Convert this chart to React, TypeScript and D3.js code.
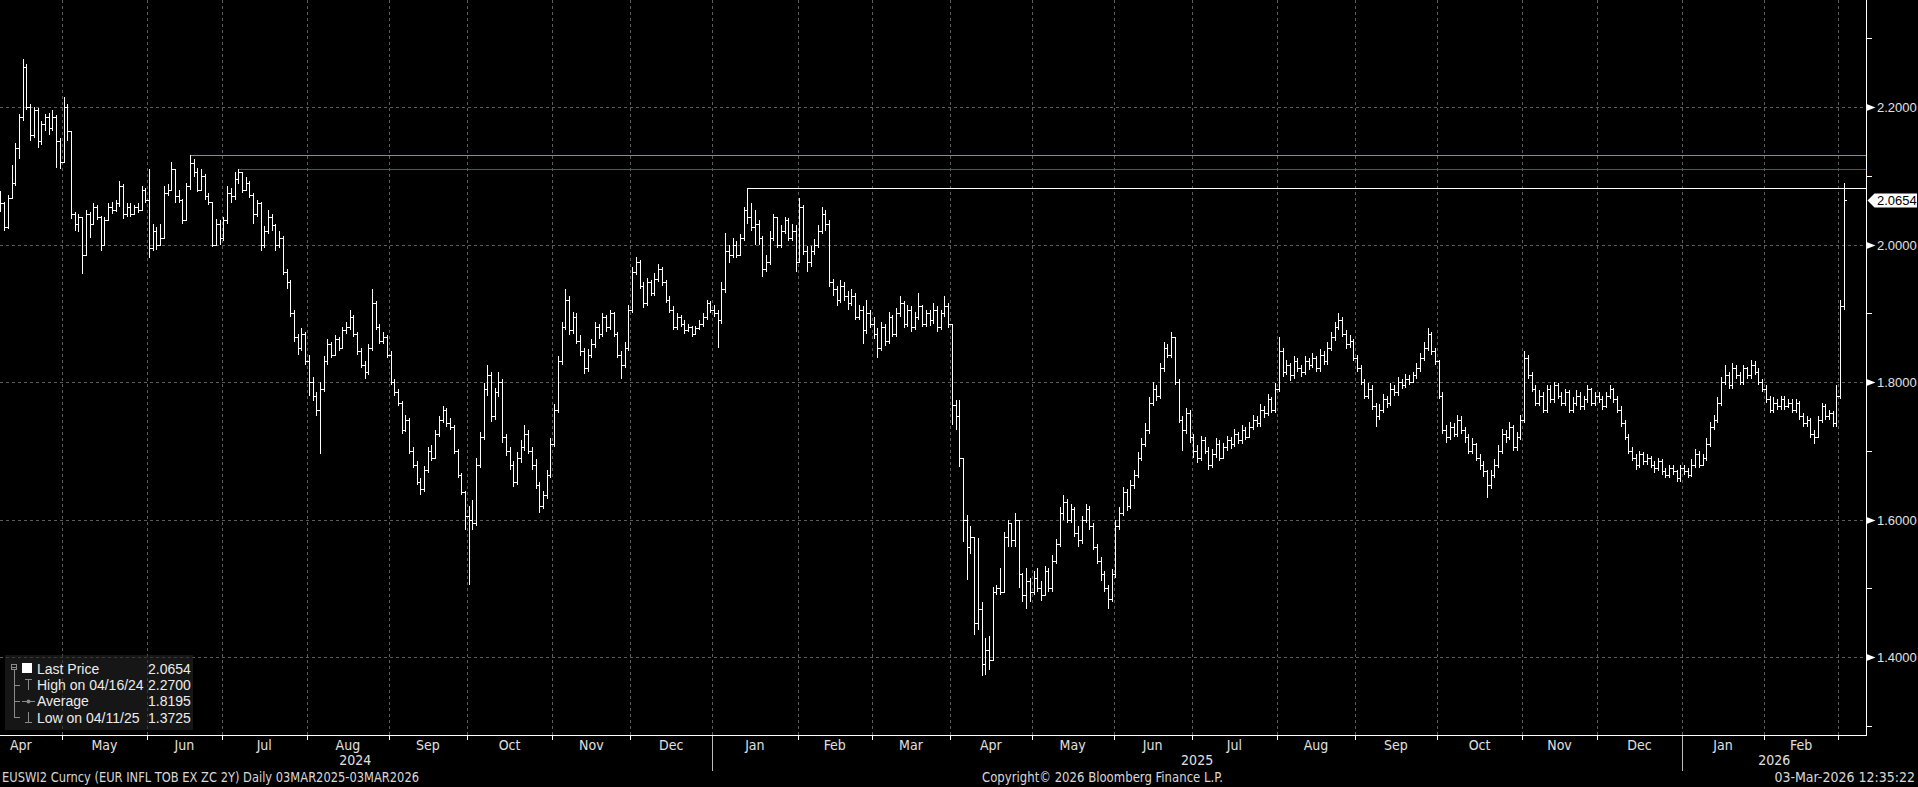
import React from "react";
import * as d3 from "d3";

// Daily bars, every weekday from 08-Apr-2024 to 03-Mar-2026 (497 bars)
const closes = [
  // Apr 2024
  2.060, 2.025, 2.068, 2.090, 2.140, 2.185, 2.258, 2.200, 2.160, 2.195, 2.150, 2.175, 2.185, 2.170, 2.185, 2.150, 2.120,
  // May 2024
  2.200, 2.165, 2.045, 2.030, 2.040, 1.985, 2.045, 2.030, 2.055, 2.040, 2.000, 2.035, 2.055, 2.050, 2.060, 2.085, 2.045, 2.055, 2.045, 2.055, 2.050, 2.080, 2.065,
  // Jun 2024
  1.995, 2.020, 2.000, 2.010, 2.075, 2.080, 2.110, 2.070, 2.065, 2.035, 2.085, 2.118, 2.105, 2.080, 2.100, 2.070, 2.062, 2.000, 2.030, 2.010,
  // Jul 2024
  2.035, 2.075, 2.070, 2.095, 2.105, 2.080, 2.090, 2.072, 2.045, 2.060, 2.000, 2.020, 2.040, 2.028, 2.000, 2.010, 1.960, 1.945, 1.900, 1.865, 1.850, 1.870, 1.830,
  // Aug 2024
  1.800, 1.780, 1.760, 1.790, 1.830, 1.855, 1.840, 1.862, 1.850, 1.875, 1.880, 1.895, 1.870, 1.845, 1.825, 1.815, 1.850, 1.915, 1.880, 1.860, 1.865, 1.840,
  // Sep 2024
  1.800, 1.785, 1.770, 1.730, 1.745, 1.700, 1.680, 1.655, 1.645, 1.672, 1.700, 1.690, 1.725, 1.745, 1.760, 1.740, 1.735, 1.700, 1.665, 1.640, 1.605,
  // Oct 2024
  1.600, 1.595, 1.680, 1.720, 1.790, 1.810, 1.750, 1.785, 1.800, 1.720, 1.700, 1.680, 1.655, 1.690, 1.705, 1.725, 1.700, 1.680, 1.650, 1.620, 1.635, 1.665, 1.710,
  // Nov 2024
  1.760, 1.830, 1.880, 1.920, 1.875, 1.895, 1.860, 1.845, 1.820, 1.840, 1.855, 1.880, 1.870, 1.895, 1.880, 1.900, 1.870, 1.840, 1.825, 1.850, 1.905,
  // Dec 2024
  1.960, 1.975, 1.940, 1.915, 1.945, 1.930, 1.950, 1.965, 1.945, 1.920, 1.905, 1.880, 1.895, 1.885, 1.875, 1.880, 1.870, 1.878, 1.885, 1.895, 1.915, 1.905,
  // Jan 2025
  1.900, 1.890, 1.935, 1.990, 1.985, 2.000, 1.985, 2.010, 2.050, 2.040, 2.025, 2.030, 2.010, 1.965, 1.975, 2.010, 2.040, 2.000, 2.020, 2.035, 2.010, 2.020, 1.975,
  // Feb 2025
  2.055, 1.990, 1.975, 1.990, 2.000, 2.020, 2.045, 2.030, 1.945, 1.935, 1.920, 1.940, 1.925, 1.915, 1.925, 1.895, 1.905, 1.875, 1.900, 1.885,
  // Mar 2025
  1.870, 1.850, 1.880, 1.860, 1.895, 1.870, 1.900, 1.915, 1.885, 1.905, 1.880, 1.895, 1.910, 1.885, 1.900, 1.890, 1.905, 1.880, 1.900, 1.910, 1.885,
  // Apr 2025
  1.766, 1.750, 1.690, 1.600, 1.560, 1.575, 1.450, 1.470, 1.390, 1.410, 1.395, 1.495, 1.500, 1.495, 1.575, 1.595, 1.570, 1.600, 1.520, 1.490, 1.510, 1.495,
  // May 2025
  1.515, 1.500, 1.490, 1.525, 1.500, 1.540, 1.565, 1.610, 1.625, 1.600, 1.615, 1.580, 1.570, 1.600, 1.615, 1.590, 1.560, 1.540, 1.520, 1.500, 1.485, 1.520,
  // Jun 2025
  1.590, 1.610, 1.640, 1.620, 1.650, 1.665, 1.690, 1.710, 1.730, 1.770, 1.790, 1.780, 1.820, 1.850, 1.840, 1.865, 1.800, 1.745, 1.730, 1.755, 1.720,
  // Jul 2025
  1.700, 1.690, 1.715, 1.700, 1.680, 1.695, 1.710, 1.690, 1.705, 1.715, 1.710, 1.725, 1.715, 1.730, 1.720, 1.735, 1.745, 1.740, 1.760, 1.755, 1.775, 1.760, 1.790,
  // Aug 2025
  1.845, 1.815, 1.825, 1.810, 1.830, 1.820, 1.815, 1.830, 1.825, 1.835, 1.820, 1.840, 1.830, 1.850, 1.865, 1.880, 1.890, 1.870, 1.855, 1.860, 1.835,
  // Sep 2025
  1.820, 1.800, 1.780, 1.790, 1.765, 1.750, 1.760, 1.775, 1.770, 1.790, 1.785, 1.800, 1.795, 1.805, 1.800, 1.810, 1.820, 1.835, 1.850, 1.870, 1.845, 1.830,
  // Oct 2025
  1.780, 1.730, 1.720, 1.735, 1.725, 1.745, 1.730, 1.720, 1.700, 1.710, 1.690, 1.680, 1.670, 1.650, 1.665, 1.680, 1.700, 1.725, 1.720, 1.735, 1.705, 1.720, 1.745,
  // Nov 2025
  1.835, 1.810, 1.790, 1.770, 1.780, 1.760, 1.790, 1.775, 1.795, 1.780, 1.770, 1.785, 1.760, 1.770, 1.780, 1.765, 1.775, 1.790, 1.770, 1.780,
  // Dec 2025
  1.775, 1.765, 1.780, 1.790, 1.775, 1.760, 1.740, 1.720, 1.700, 1.690, 1.680, 1.695, 1.685, 1.690, 1.680, 1.675, 1.685, 1.670, 1.665, 1.675, 1.670, 1.660, 1.675,
  // Jan 2026
  1.670, 1.665, 1.680, 1.695, 1.680, 1.690, 1.710, 1.735, 1.745, 1.770, 1.800, 1.810, 1.795, 1.820, 1.810, 1.800, 1.820, 1.810, 1.825, 1.815, 1.800, 1.790,
  // Feb 2026
  1.775, 1.760, 1.770, 1.765, 1.775, 1.765, 1.770, 1.760, 1.770, 1.750, 1.740, 1.745, 1.725, 1.720, 1.745, 1.765, 1.750, 1.755, 1.740, 1.780,
  // Mar 2026
  1.910, 2.0654,
];

const highs = [
  // Apr 2024
  2.078, 2.062, 2.072, 2.115, 2.148, 2.190, 2.270, 2.262, 2.205, 2.200, 2.198, 2.180, 2.190, 2.192, 2.195, 2.188, 2.155,
  // May 2024
  2.215, 2.205, 2.165, 2.048, 2.045, 2.040, 2.050, 2.048, 2.060, 2.058, 2.042, 2.040, 2.060, 2.062, 2.065, 2.092, 2.088, 2.060, 2.060, 2.058, 2.060, 2.085, 2.082,
  // Jun 2024
  2.110, 2.030, 2.025, 2.030, 2.085, 2.088, 2.120, 2.110, 2.080, 2.066, 2.090, 2.130, 2.125, 2.112, 2.110, 2.102, 2.075, 2.062, 2.037, 2.035,
  // Jul 2024
  2.040, 2.085, 2.082, 2.105, 2.110, 2.100, 2.098, 2.092, 2.075, 2.065, 2.062, 2.027, 2.050, 2.045, 2.030, 2.020, 2.012, 1.965, 1.948, 1.905, 1.870, 1.878, 1.872,
  // Aug 2024
  1.840, 1.808, 1.785, 1.800, 1.838, 1.862, 1.858, 1.868, 1.866, 1.880, 1.888, 1.905, 1.898, 1.872, 1.850, 1.830, 1.855, 1.935, 1.918, 1.885, 1.872, 1.868,
  // Sep 2024
  1.845, 1.805, 1.790, 1.772, 1.752, 1.748, 1.705, 1.685, 1.660, 1.678, 1.705, 1.708, 1.730, 1.750, 1.765, 1.762, 1.748, 1.738, 1.702, 1.668, 1.642,
  // Oct 2024
  1.620, 1.628, 1.690, 1.728, 1.798, 1.825, 1.815, 1.792, 1.815, 1.805, 1.725, 1.705, 1.685, 1.698, 1.715, 1.738, 1.730, 1.705, 1.688, 1.655, 1.642, 1.672, 1.718,
  // Nov 2024
  1.768, 1.838, 1.888, 1.935, 1.925, 1.902, 1.900, 1.868, 1.850, 1.848, 1.862, 1.888, 1.885, 1.900, 1.898, 1.905, 1.902, 1.872, 1.845, 1.858, 1.912,
  // Dec 2024
  1.968, 1.982, 1.978, 1.945, 1.952, 1.948, 1.958, 1.972, 1.968, 1.948, 1.925, 1.910, 1.900, 1.898, 1.890, 1.885, 1.882, 1.882, 1.890, 1.900, 1.920, 1.918,
  // Jan 2025
  1.912, 1.905, 1.945, 2.017, 2.000, 2.010, 2.005, 2.015, 2.055, 2.082, 2.060, 2.050, 2.035, 2.012, 1.985, 2.020, 2.045, 2.040, 2.028, 2.040, 2.038, 2.030, 2.028,
  // Feb 2025
  2.068, 2.058, 1.998, 1.998, 2.008, 2.028, 2.055, 2.050, 2.035, 1.950, 1.940, 1.948, 1.945, 1.932, 1.935, 1.930, 1.912, 1.910, 1.920, 1.905,
  // Mar 2025
  1.895, 1.878, 1.888, 1.885, 1.902, 1.898, 1.908, 1.925, 1.918, 1.912, 1.910, 1.902, 1.930, 1.912, 1.905, 1.905, 1.915, 1.910, 1.905, 1.925, 1.915,
  // Apr 2025
  1.885, 1.774, 1.774, 1.679, 1.607, 1.590, 1.548, 1.573, 1.480, 1.427, 1.430, 1.502, 1.505, 1.530, 1.582, 1.600, 1.590, 1.610, 1.560, 1.522, 1.530, 1.515,
  // May 2025
  1.525, 1.530, 1.510, 1.532, 1.530, 1.548, 1.572, 1.618, 1.635, 1.630, 1.622, 1.618, 1.590, 1.605, 1.622, 1.620, 1.595, 1.565, 1.545, 1.525, 1.505, 1.528,
  // Jun 2025
  1.600, 1.618, 1.648, 1.645, 1.658, 1.672, 1.698, 1.718, 1.740, 1.778, 1.800, 1.795, 1.828, 1.858, 1.855, 1.872, 1.862, 1.805, 1.750, 1.762, 1.760,
  // Jul 2025
  1.725, 1.708, 1.722, 1.720, 1.705, 1.702, 1.718, 1.715, 1.712, 1.722, 1.720, 1.732, 1.728, 1.738, 1.735, 1.742, 1.752, 1.750, 1.768, 1.765, 1.782, 1.778, 1.798,
  // Aug 2025
  1.865, 1.850, 1.832, 1.828, 1.838, 1.835, 1.825, 1.838, 1.835, 1.842, 1.838, 1.848, 1.845, 1.858, 1.872, 1.888, 1.900, 1.895, 1.875, 1.868, 1.862,
  // Sep 2025
  1.840, 1.825, 1.805, 1.798, 1.795, 1.770, 1.768, 1.782, 1.780, 1.798, 1.795, 1.808, 1.805, 1.812, 1.810, 1.815, 1.828, 1.842, 1.858, 1.878, 1.872, 1.850,
  // Oct 2025
  1.832, 1.785, 1.738, 1.742, 1.740, 1.752, 1.750, 1.735, 1.725, 1.718, 1.712, 1.695, 1.685, 1.672, 1.672, 1.688, 1.708, 1.732, 1.730, 1.742, 1.738, 1.728, 1.752,
  // Nov 2025
  1.845, 1.840, 1.815, 1.795, 1.788, 1.785, 1.795, 1.795, 1.800, 1.798, 1.785, 1.790, 1.788, 1.778, 1.788, 1.785, 1.780, 1.795, 1.792, 1.785,
  // Dec 2025
  1.785, 1.780, 1.785, 1.795, 1.792, 1.780, 1.765, 1.745, 1.725, 1.705, 1.695, 1.700, 1.698, 1.695, 1.692, 1.685, 1.690, 1.688, 1.675, 1.680, 1.680, 1.672, 1.680,
  // Jan 2026
  1.680, 1.675, 1.688, 1.702, 1.700, 1.695, 1.718, 1.742, 1.752, 1.778, 1.808, 1.825, 1.815, 1.828, 1.825, 1.815, 1.825, 1.822, 1.832, 1.830, 1.820, 1.805,
  // Feb 2026
  1.795, 1.780, 1.778, 1.775, 1.780, 1.780, 1.775, 1.775, 1.775, 1.772, 1.755, 1.750, 1.748, 1.730, 1.750, 1.770, 1.768, 1.760, 1.758, 1.795,
  // Mar 2026
  1.920, 2.089,
];

const lows = [
  // Apr 2024
  2.048, 2.020, 2.022, 2.066, 2.085, 2.125, 2.180, 2.195, 2.150, 2.155, 2.140, 2.145, 2.165, 2.160, 2.165, 2.112, 2.110,
  // May 2024
  2.118, 2.150, 2.037, 2.020, 2.018, 1.957, 1.985, 2.010, 2.030, 2.035, 1.990, 1.998, 2.035, 2.045, 2.048, 2.055, 2.037, 2.040, 2.040, 2.045, 2.046, 2.050, 2.060,
  // Jun 2024
  1.980, 1.990, 1.992, 1.998, 2.010, 2.070, 2.078, 2.060, 2.060, 2.030, 2.035, 2.080, 2.098, 2.076, 2.078, 2.065, 2.058, 1.996, 2.000, 2.000,
  // Jul 2024
  2.005, 2.030, 2.060, 2.065, 2.088, 2.075, 2.078, 2.068, 2.030, 2.040, 1.990, 1.995, 2.015, 2.020, 1.990, 1.995, 1.955, 1.935, 1.895, 1.858, 1.840, 1.845, 1.825,
  // Aug 2024
  1.780, 1.772, 1.750, 1.695, 1.785, 1.825, 1.835, 1.838, 1.845, 1.848, 1.870, 1.875, 1.865, 1.840, 1.820, 1.805, 1.810, 1.845, 1.875, 1.855, 1.855, 1.835,
  // Sep 2024
  1.795, 1.780, 1.765, 1.725, 1.728, 1.695, 1.675, 1.650, 1.635, 1.640, 1.668, 1.685, 1.688, 1.720, 1.740, 1.735, 1.730, 1.695, 1.660, 1.635, 1.585,
  // Oct 2024
  1.505, 1.585, 1.590, 1.675, 1.715, 1.780, 1.742, 1.745, 1.778, 1.712, 1.692, 1.672, 1.648, 1.650, 1.682, 1.700, 1.695, 1.672, 1.645, 1.610, 1.615, 1.630, 1.660,
  // Nov 2024
  1.705, 1.755, 1.825, 1.875, 1.868, 1.870, 1.855, 1.838, 1.812, 1.815, 1.835, 1.850, 1.862, 1.865, 1.872, 1.875, 1.865, 1.835, 1.805, 1.820, 1.845,
  // Dec 2024
  1.900, 1.955, 1.935, 1.908, 1.910, 1.925, 1.925, 1.945, 1.940, 1.915, 1.900, 1.875, 1.875, 1.880, 1.870, 1.872, 1.865, 1.868, 1.875, 1.880, 1.890, 1.900,
  // Jan 2025
  1.895, 1.850, 1.885, 1.930, 1.973, 1.980, 1.980, 1.985, 2.005, 2.030, 2.020, 2.000, 2.000, 1.953, 1.960, 1.970, 2.005, 1.995, 1.995, 2.015, 2.005, 2.005, 1.960,
  // Feb 2025
  1.980, 1.985, 1.960, 1.968, 1.985, 1.995, 2.015, 2.020, 1.938, 1.925, 1.910, 1.915, 1.918, 1.905, 1.910, 1.890, 1.890, 1.855, 1.870, 1.878,
  // Mar 2025
  1.862, 1.835, 1.845, 1.852, 1.855, 1.865, 1.865, 1.895, 1.878, 1.880, 1.872, 1.875, 1.890, 1.880, 1.880, 1.882, 1.885, 1.872, 1.875, 1.895, 1.878,
  // Apr 2025
  1.737, 1.730, 1.676, 1.567, 1.512, 1.550, 1.432, 1.440, 1.3725, 1.374, 1.381, 1.450, 1.490, 1.490, 1.522, 1.560, 1.560, 1.560, 1.500, 1.480, 1.470, 1.480,
  // May 2025
  1.490, 1.495, 1.482, 1.488, 1.495, 1.495, 1.535, 1.560, 1.600, 1.595, 1.595, 1.575, 1.560, 1.565, 1.595, 1.585, 1.555, 1.535, 1.510, 1.495, 1.470, 1.480,
  // Jun 2025
  1.515, 1.585, 1.605, 1.612, 1.615, 1.645, 1.660, 1.685, 1.705, 1.725, 1.765, 1.772, 1.775, 1.815, 1.835, 1.835, 1.795, 1.740, 1.700, 1.725, 1.712,
  // Jul 2025
  1.690, 1.682, 1.685, 1.695, 1.672, 1.675, 1.690, 1.685, 1.688, 1.700, 1.702, 1.705, 1.710, 1.710, 1.715, 1.718, 1.730, 1.735, 1.735, 1.748, 1.750, 1.755, 1.755,
  // Aug 2025
  1.785, 1.808, 1.810, 1.802, 1.805, 1.815, 1.808, 1.810, 1.818, 1.820, 1.815, 1.815, 1.825, 1.825, 1.845, 1.860, 1.875, 1.865, 1.848, 1.850, 1.830,
  // Sep 2025
  1.815, 1.795, 1.775, 1.775, 1.760, 1.735, 1.745, 1.755, 1.762, 1.765, 1.780, 1.780, 1.790, 1.792, 1.795, 1.798, 1.805, 1.815, 1.830, 1.845, 1.840, 1.825,
  // Oct 2025
  1.775, 1.725, 1.712, 1.715, 1.720, 1.720, 1.725, 1.712, 1.695, 1.695, 1.685, 1.672, 1.662, 1.632, 1.645, 1.660, 1.675, 1.695, 1.712, 1.715, 1.700, 1.700, 1.715,
  // Nov 2025
  1.740, 1.805, 1.785, 1.765, 1.765, 1.755, 1.755, 1.770, 1.770, 1.775, 1.765, 1.765, 1.755, 1.755, 1.765, 1.760, 1.760, 1.770, 1.765, 1.765,
  // Dec 2025
  1.770, 1.760, 1.762, 1.775, 1.770, 1.755, 1.735, 1.715, 1.695, 1.685, 1.672, 1.675, 1.680, 1.680, 1.675, 1.668, 1.670, 1.665, 1.660, 1.660, 1.665, 1.655, 1.655,
  // Jan 2026
  1.665, 1.660, 1.662, 1.675, 1.675, 1.678, 1.685, 1.705, 1.730, 1.740, 1.765, 1.795, 1.790, 1.790, 1.805, 1.795, 1.795, 1.805, 1.805, 1.810, 1.795, 1.785,
  // Feb 2026
  1.770, 1.755, 1.755, 1.760, 1.760, 1.760, 1.762, 1.755, 1.755, 1.745, 1.735, 1.735, 1.718, 1.710, 1.718, 1.740, 1.745, 1.745, 1.735, 1.735,
  // Mar 2026
  1.775, 1.905,
];

const yMajorTicks = [1.4, 1.6, 1.8, 2.0, 2.2];
const yMinorTicks = [1.3, 1.5, 1.7, 1.9, 2.1, 2.3];
const monthNames = ["Jan", "Feb", "Mar", "Apr", "May", "Jun", "Jul", "Aug", "Sep", "Oct", "Nov", "Dec"];

const trendLines = [
  { value: 2.1295, start: "2024-06-18", color: "#4cb848" },
  { value: 2.1098, start: "2024-07-05", color: "#c8242c" },
  { value: 2.082, start: "2025-01-14", color: "#ffffff" },
];

const lastPrice = 2.0654;

const legendRows = [
  { label: "Last Price", value: "2.0654" },
  { label: "High on 04/16/24", value: "2.2700" },
  { label: "Average", value: "1.8195" },
  { label: "Low on 04/11/25", value: "1.3725" },
];

const footerLeft = "EUSWI2 Curncy (EUR INFL TOB EX ZC 2Y) Daily 03MAR2025-03MAR2026";
const footerMid = "Copyright\u00A9 2026 Bloomberg Finance L.P.";
const footerRight = "03-Mar-2026 12:35:22";

const W = 1918;
const H = 787;
const AX_X = 1866.5;
const AX_Y = 735.5;
const NARROW = "'Liberation Sans Narrow', 'DejaVu Sans Condensed', 'Arial Narrow', sans-serif";
const SANS = "'Liberation Sans', Arial, sans-serif";

export default function App() {
  const days = d3
    .utcDays(new Date(Date.UTC(2024, 3, 8)), new Date(Date.UTC(2026, 2, 4)))
    .filter((d) => d.getUTCDay() !== 0 && d.getUTCDay() !== 6);
  const fmt = d3.utcFormat("%Y-%m-%d");
  const keys = days.map(fmt);
  const x = d3.scaleBand<string>().domain(keys).range([-1.5, 1845.7]).padding(0);
  const bw = x.bandwidth();
  const y = d3.scaleLinear().domain([1.4, 2.2]).range([657, 107]);
  const n = Math.min(keys.length, closes.length, highs.length, lows.length);
  const cx = (i: number) => (x(keys[i]) ?? 0) + bw / 2;

  let bars = "";
  for (let i = 0; i < n; i++) {
    const xc = Math.round(cx(i)) + 0.5;
    const c = closes[i];
    const o = i > 0 ? closes[i - 1] : c;
    const hi = Math.max(highs[i], o, c);
    const lo = Math.min(lows[i], o, c);
    const yt = Math.round(y(hi));
    const yb = Math.max(Math.round(y(lo)), yt + 1);
    bars += `M${xc},${yt}V${yb}`;
    if (i > 0) {
      const yo = Math.round(y(o)) + 0.5;
      bars += `M${xc - 2.5},${yo}H${xc}`;
    }
    const ycl = Math.round(y(c)) + 0.5;
    bars += `M${xc},${ycl}H${xc + 2.5}`;
  }

  // month structure
  const monthStarts: { i: number; d: Date }[] = [];
  days.forEach((d, i) => {
    if (i === 0 || d.getUTCMonth() !== days[i - 1].getUTCMonth()) monthStarts.push({ i, d });
  });
  const weekdaysInMonth = (d: Date) => {
    const s = new Date(Date.UTC(d.getUTCFullYear(), d.getUTCMonth(), 1));
    const e = new Date(Date.UTC(d.getUTCFullYear(), d.getUTCMonth() + 1, 1));
    return d3.utcDays(s, e).filter((q) => q.getUTCDay() !== 0 && q.getUTCDay() !== 6).length;
  };
  const boundaries = monthStarts.filter((m) => m.i > 0).map((m) => ({ ...m, x: x(keys[m.i]) ?? 0 }));
  const monthLabels = monthStarts
    .map((m, k) => {
      const next = monthStarts[k + 1];
      const full = weekdaysInMonth(m.d) * bw;
      let s: number, e: number;
      if (m.i === 0 && next) {
        e = x(keys[next.i]) ?? 0;
        s = e - full;
      } else {
        s = x(keys[m.i]) ?? 0;
        e = next ? x(keys[next.i]) ?? 0 : s + full;
      }
      const count = (next ? next.i : days.length) - m.i;
      return { label: monthNames[m.d.getUTCMonth()], cx: (s + e) / 2, show: count >= 5 };
    })
    .filter((m) => m.show);

  const years = Array.from(new Set(days.map((d) => d.getUTCFullYear())));
  const yearStarts = years.map((yr) => {
    const i = days.findIndex((d) => d.getUTCFullYear() === yr);
    return { yr, i, x: i === 0 ? -1.5 : x(keys[i]) ?? 0 };
  });
  const yearLabels = yearStarts.map((ys, k) => {
    const e = k + 1 < yearStarts.length ? yearStarts[k + 1].x : AX_X;
    return { label: String(ys.yr), cx: (ys.x + e) / 2, sepX: ys.i === 0 ? null : ys.x };
  });

  const yLast = y(lastPrice) + 1;

  return (
    <div style={{ position: "fixed", left: 0, top: 0, width: W, height: H, background: "#000" }}>
      <svg width={W} height={H} style={{ display: "block" }}>
        <rect x={0} y={0} width={W} height={H} fill="#000" />
        {/* grid */}
        <g stroke="#5c5c5c" strokeWidth={1} strokeDasharray="3,3" shapeRendering="crispEdges">
          {yMajorTicks.map((t) => (
            <line key={"gy" + t} x1={0} x2={AX_X} y1={Math.round(y(t)) + 0.5} y2={Math.round(y(t)) + 0.5} />
          ))}
          {boundaries.map((b) => (
            <line key={"gx" + b.i} x1={Math.round(b.x) + 0.5} x2={Math.round(b.x) + 0.5} y1={0} y2={AX_Y} />
          ))}
        </g>

        {/* trend lines */}
        <g shapeRendering="crispEdges" strokeWidth={1}>
          {trendLines.map((t) => {
            const i = keys.indexOf(t.start);
            const yy = Math.round(y(t.value)) + 0.5;
            return <line key={t.start} x1={Math.round(cx(i))} x2={AX_X} y1={yy} y2={yy} stroke={t.color} />;
          })}
        </g>

        {/* bars */}
        <path d={bars} stroke="#ffffff" strokeWidth={1} fill="none" shapeRendering="crispEdges" />

        {/* axes */}
        <g stroke="#ffffff" strokeWidth={1} shapeRendering="crispEdges">
          <line x1={AX_X} x2={AX_X} y1={0} y2={AX_Y + 0.5} />
          <line x1={0} x2={AX_X} y1={AX_Y} y2={AX_Y} />
          {boundaries.map((b) => (
            <line key={"tx" + b.i} x1={Math.round(b.x) + 0.5} x2={Math.round(b.x) + 0.5} y1={AX_Y} y2={AX_Y + 4} />
          ))}
          {yMinorTicks.map((t) => (
            <line key={"my" + t} x1={AX_X} x2={AX_X + 5} y1={Math.round(y(t)) + 0.5} y2={Math.round(y(t)) + 0.5} />
          ))}
        </g>
        <g stroke="#bdbdbd" strokeWidth={1} shapeRendering="crispEdges">
          {yearLabels
            .filter((yl) => yl.sepX !== null)
            .map((yl) => (
              <line key={"ys" + yl.label} x1={Math.round(yl.sepX as number) + 0.5} x2={Math.round(yl.sepX as number) + 0.5} y1={AX_Y} y2={771} />
            ))}
        </g>

        {/* right axis labels */}
        {yMajorTicks.map((t) => {
          const yy = Math.round(y(t)) + 0.5;
          return (
            <g key={"ly" + t}>
              <polygon points={`${AX_X},${yy - 3.5} ${AX_X + 9},${yy} ${AX_X},${yy + 3.5}`} fill="#ffffff" />
              <text x={1877} y={yy + 4.5} fill="#e2e2e2" fontSize={13} fontFamily={SANS}>
                {d3.format(".4f")(t)}
              </text>
            </g>
          );
        })}

        {/* last price tag */}
        <polygon
          points={`${AX_X + 1},${yLast} ${AX_X + 8},${yLast - 7} 1917,${yLast - 7} 1917,${yLast + 7} ${AX_X + 8},${yLast + 7}`}
          fill="#ffffff"
        />
        <text x={1877} y={yLast + 4.5} fill="#000" fontSize={13} fontFamily={SANS}>
          {d3.format(".4f")(lastPrice)}
        </text>

        {/* month labels */}
        {monthLabels.map((m, k) => (
          <text key={"m" + k} x={m.cx} y={750} textAnchor="middle" fill="#e0e0e0" fontSize={14} fontFamily={NARROW}>
            {m.label}
          </text>
        ))}
        {yearLabels.map((yl) => (
          <text key={"y" + yl.label} x={yl.cx} y={765} textAnchor="middle" fill="#e0e0e0" fontSize={14} fontFamily={NARROW}>
            {yl.label}
          </text>
        ))}

        {/* footer */}
        <text x={2} y={782} fill="#d8d8d8" fontSize={14} fontFamily={NARROW} textLength={417} lengthAdjust="spacingAndGlyphs">
          {footerLeft}
        </text>
        <text x={982} y={782} fill="#d8d8d8" fontSize={14} fontFamily={NARROW} textLength={241} lengthAdjust="spacingAndGlyphs">
          {footerMid}
        </text>
        <text x={1915} y={782} textAnchor="end" fill="#d8d8d8" fontSize={14} fontFamily={NARROW}>
          {footerRight}
        </text>

        {/* legend */}
        <g>
          <rect x={5} y={655} width={188} height={75} fill="#242424" fillOpacity={0.6} />
          <g stroke="#8a8a8a" strokeWidth={1} fill="none" shapeRendering="crispEdges">
            <rect x={11.5} y={664.5} width={5} height={5} />
            <line x1={12} x2={16} y1={667} y2={667} />
            <line x1={14.5} x2={14.5} y1={670} y2={718} />
            <line x1={14.5} x2={20} y1={685.5} y2={685.5} />
            <line x1={14.5} x2={20} y1={701.5} y2={701.5} />
            <line x1={14.5} x2={20} y1={717.5} y2={717.5} />
            {/* high icon */}
            <line x1={25} x2={32} y1={679.5} y2={679.5} />
            <line x1={28.5} x2={28.5} y1={680} y2={690} />
            {/* average icon */}
            <line x1={22} x2={35} y1={701.5} y2={701.5} />
            {/* low icon */}
            <line x1={28.5} x2={28.5} y1={712} y2={722} />
            <line x1={25} x2={32} y1={722.5} y2={722.5} />
          </g>
          <circle cx={28.5} cy={701.5} r={2} fill="#8a8a8a" />
          <rect x={22} y={663} width={10} height={10} fill="#ffffff" />
          {legendRows.map((r, k) => (
            <g key={r.label}>
              <text x={37} y={674 + k * 16.2} fill="#ececec" fontSize={14} fontFamily={SANS}>
                {r.label}
              </text>
              <text x={148} y={674 + k * 16.2} fill="#ececec" fontSize={14} fontFamily={SANS}>
                {r.value}
              </text>
            </g>
          ))}
        </g>
      </svg>
    </div>
  );
}
